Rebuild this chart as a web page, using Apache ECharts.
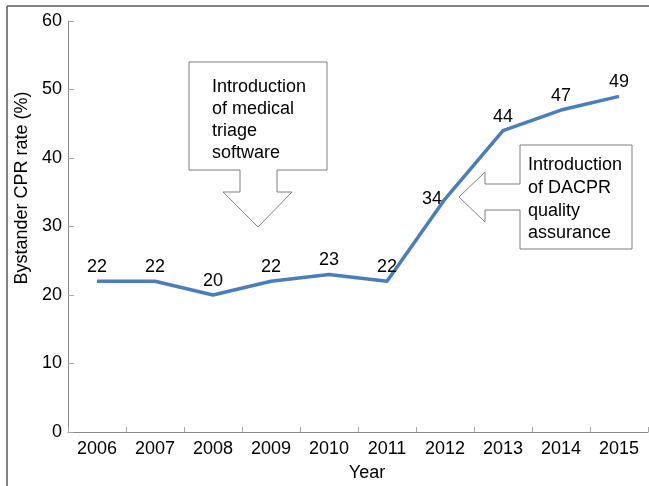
<!DOCTYPE html>
<html>
<head>
<meta charset="utf-8">
<script src="https://cdn.jsdelivr.net/npm/echarts@6/dist/echarts.min.js"></script>
<style>html,body{margin:0;padding:0;background:#fff;}#c{width:649px;height:486px;}</style>
</head>
<body>
<div id="c"></div>
<script>
var years = ['2006','2007','2008','2009','2010','2011','2012','2013','2014','2015'];
var rates = [22, 22, 20, 22, 23, 22, 34, 44, 47, 49];
var yTicks = [0, 10, 20, 30, 40, 50, 60];
var yAxisName = 'Bystander CPR rate (%)';
var xAxisName = 'Year';
var note1 = ['Introduction', 'of medical', 'triage', 'software'];
var note2 = ['Introduction', 'of DACPR', 'quality', 'assurance'];

var FONT = '"Liberation Sans", Arial, Helvetica, sans-serif';
var chart = echarts.init(document.getElementById('c'), null, {renderer: 'canvas'});

var seriesData = rates.map(function (v, i) {
  if (years[i] === '2012') {
    return {value: v, label: {position: 'left', distance: 3}};
  }
  return v;
});

chart.setOption({
  animation: false,
  backgroundColor: '#fff',
  grid: {left: 68, right: 1, top: 21, bottom: 54, containLabel: false},
  xAxis: {
    type: 'category',
    data: years,
    boundaryGap: true,
    axisLine: {lineStyle: {color: '#868686', width: 1}},
    axisTick: {show: true, inside: true, length: 5, lineStyle: {color: '#a6a6a6'}},
    axisLabel: {color: '#000', fontSize: 18, fontFamily: FONT, margin: 8, interval: 0},
    splitLine: {show: false}
  },
  yAxis: {
    type: 'value',
    min: yTicks[0],
    max: yTicks[yTicks.length - 1],
    interval: 10,
    axisLine: {show: true, lineStyle: {color: '#868686', width: 1}},
    axisTick: {show: true, inside: true, length: 6, lineStyle: {color: '#a6a6a6'}},
    axisLabel: {color: '#000', fontSize: 18, fontFamily: FONT, margin: 6},
    splitLine: {show: false}
  },
  series: [{
    type: 'line',
    data: seriesData,
    symbol: 'circle',
    symbolSize: 0,
    lineStyle: {color: '#4A7EBB', width: 3.5},
    itemStyle: {color: '#4A7EBB'},
    label: {show: true, position: 'top', distance: 5, color: '#000', fontSize: 18, fontFamily: FONT},
    z: 3
  }],
  graphic: [
    {type: 'line', shape: {x1: 7, y1: 6, x2: 7, y2: 486}, style: {stroke: '#595959', lineWidth: 1.5}},
    {type: 'line', shape: {x1: 7, y1: 6, x2: 649, y2: 6}, style: {stroke: '#595959', lineWidth: 1.5}},
    {type: 'text', x: 22, y: 188, rotation: Math.PI / 2,
      style: {text: yAxisName, fill: '#000', font: '18px ' + FONT, textAlign: 'center', textVerticalAlign: 'middle'}},
    {type: 'text', x: 367, y: 473,
      style: {text: xAxisName, fill: '#000', font: '18px ' + FONT, textAlign: 'center', textVerticalAlign: 'middle'}},
    {type: 'polygon', z: 1,
      shape: {points: [[189,62],[327,62],[327,170],[277,170],[277,192],[292,192],[258,227],[223,192],[240,192],[240,170],[189,170]]},
      style: {fill: '#fff', stroke: '#7f7f7f', lineWidth: 1}},
    {type: 'text', x: 212, y: 76, z: 2,
      style: {text: note1.join('\n'), fill: '#000', font: '18px ' + FONT, lineHeight: 22, textAlign: 'left', textVerticalAlign: 'top'}},
    {type: 'polygon', z: 1,
      shape: {points: [[520,145],[632,145],[632,249],[520,249],[520,210],[485,210],[485,222],[459,197],[485,172],[485,184],[520,184]]},
      style: {fill: '#fff', stroke: '#7f7f7f', lineWidth: 1}},
    {type: 'text', x: 528, y: 154, z: 2,
      style: {text: note2.join('\n'), fill: '#000', font: '18px ' + FONT, lineHeight: 22.7, textAlign: 'left', textVerticalAlign: 'top'}}
  ]
});
</script>
</body>
</html>
